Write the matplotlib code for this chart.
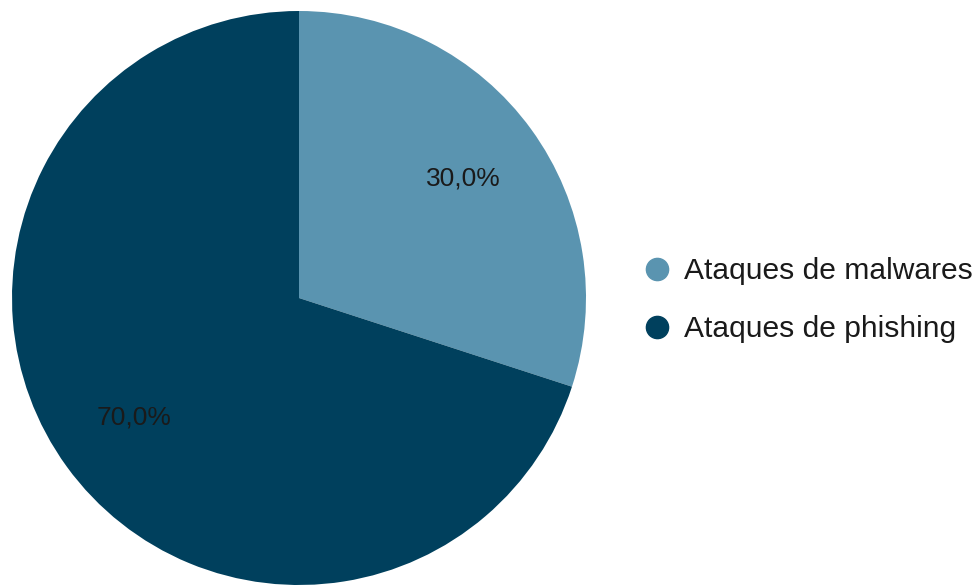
import matplotlib
matplotlib.use('Agg')
import matplotlib.pyplot as plt
from matplotlib.lines import Line2D

# Data
labels = ['Ataques de malwares', 'Ataques de phishing']
values = [30.0, 70.0]
colors = ['#5a94b0', '#00405d']

plt.rcParams['font.family'] = ['Liberation Sans', 'DejaVu Sans']

fig = plt.figure(figsize=(9.75, 5.85), dpi=100)
# square axes holding the pie, in pixel terms: x 12..586, y 11..585
ax = fig.add_axes([12/975, 0/585, 574/975, 574/585])

wedges, texts, autotexts = ax.pie(
    values, colors=colors, startangle=90, counterclock=False,
    autopct=lambda p: f'{p:.1f}%'.replace('.', ','), pctdistance=0.71,
    radius=1.0, wedgeprops=dict(linewidth=0),
    textprops=dict(fontsize=19, color='#1a1a1a'))
ax.set_xlim(-1, 1)
ax.set_ylim(-1, 1)
ax.set_aspect('auto')
ax.axis('off')

handles = [Line2D([0], [0], marker='o', linestyle='', markersize=16,
                  markerfacecolor=c, markeredgecolor=c) for c in colors]
fig.legend(handles, labels, loc='center left', bbox_to_anchor=(624/975, 1 - 300/585),
           frameon=False, fontsize=21.6, handletextpad=0.3, labelspacing=1.0,
           handlelength=1.2, borderpad=0, labelcolor='#1a1a1a')

fig.savefig('out.png', dpi=100)
